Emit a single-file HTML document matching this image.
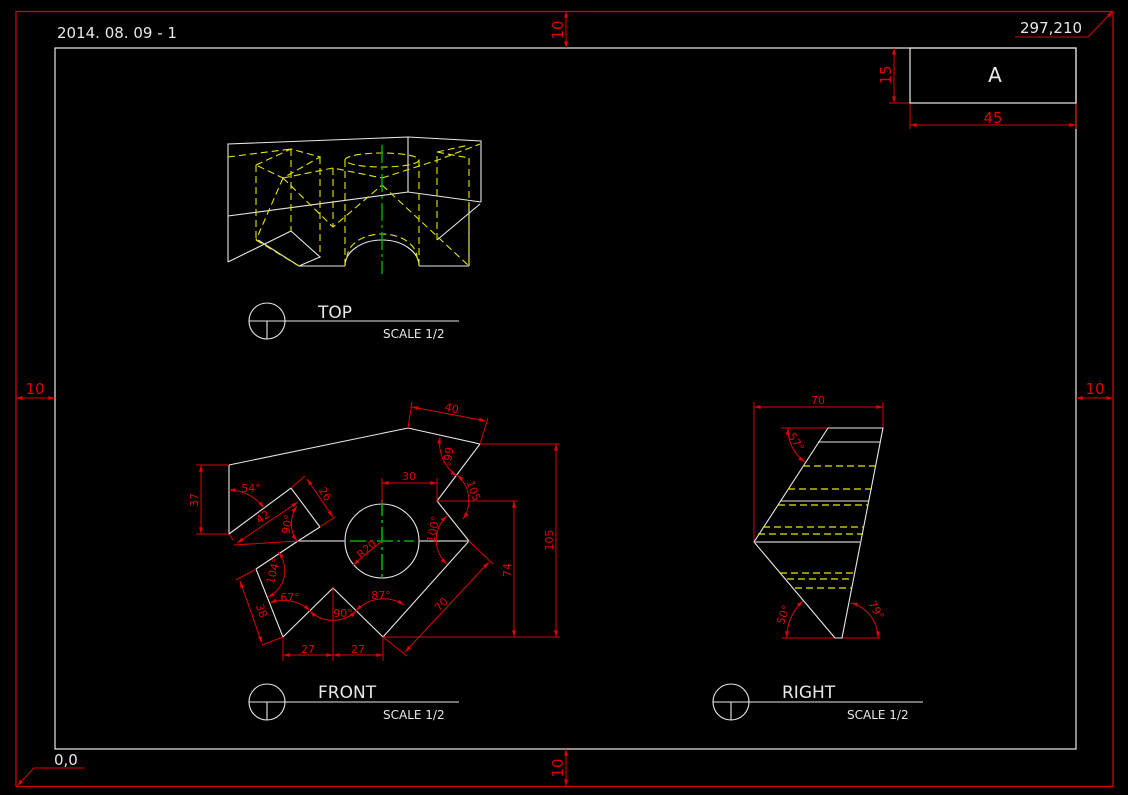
<!DOCTYPE html>
<html><head><meta charset="utf-8"><style>
html,body{margin:0;padding:0;background:#000;}
svg{display:block;}
text{font-family:"DejaVu Sans","Liberation Sans",sans-serif;}
</style></head><body>
<svg width="1128" height="795" viewBox="0 0 1128 795" xmlns="http://www.w3.org/2000/svg">
<defs>
<marker id="a" viewBox="0 0 10 6" refX="10" refY="3" markerWidth="8" markerHeight="4" orient="auto-start-reverse" markerUnits="userSpaceOnUse"><path d="M0,0L10,3L0,6z" fill="#e00000"/></marker>
</defs>
<rect width="1128" height="795" fill="#000"/>
<!-- borders -->
<rect x="16" y="11.5" width="1097" height="775" fill="none" stroke="#d00000" stroke-width="1.3"/>
<rect x="55" y="48" width="1021" height="701" fill="none" stroke="#e8e8e8" stroke-width="1.2"/>
<g stroke="#e00000" stroke-width="1" fill="none">
<line x1="566" y1="11" x2="566" y2="48" marker-start="url(#a)" marker-end="url(#a)"/>
<line x1="566" y1="749" x2="566" y2="786" marker-start="url(#a)" marker-end="url(#a)"/>
<line x1="16" y1="398" x2="55" y2="398" marker-start="url(#a)" marker-end="url(#a)"/>
<line x1="1076" y1="398" x2="1113" y2="398" marker-start="url(#a)" marker-end="url(#a)"/>
<line x1="894" y1="48" x2="894" y2="103" marker-start="url(#a)" marker-end="url(#a)"/>
<line x1="889" y1="103" x2="910" y2="103"/>
<line x1="910" y1="103" x2="910" y2="129"/><line x1="1076" y1="103" x2="1076" y2="129"/>
<line x1="910" y1="125" x2="1076" y2="125" marker-start="url(#a)" marker-end="url(#a)"/>
<polyline points="1015,37 1088,37 1113,11" marker-end="url(#a)"/>
<polyline points="85,768 34,768 17,786" marker-end="url(#a)"/>
</g>
<g fill="#e00000" font-size="15">
<text transform="translate(563,30) rotate(-90)" text-anchor="middle">10</text>
<text transform="translate(563,768) rotate(-90)" text-anchor="middle">10</text>
<text x="35" y="394" text-anchor="middle">10</text>
<text x="1095" y="394" text-anchor="middle">10</text>
<text transform="translate(891,75) rotate(-90)" text-anchor="middle">15</text>
<text x="993" y="123" text-anchor="middle">45</text>
</g>
<rect x="910" y="48" width="166" height="55" fill="none" stroke="#e8e8e8" stroke-width="1.2"/>
<g fill="#e8e8e8">
<text x="995" y="82" font-size="20" text-anchor="middle">A</text>
<text x="1020" y="33" font-size="15">297,210</text>
<text x="54" y="765" font-size="15">0,0</text>
<text x="57" y="38" font-size="15">2014. 08. 09 - 1</text>
</g>

<!-- TOP VIEW -->
<g stroke="#e8e8e8" stroke-width="1.1" fill="none">
<polyline points="228,262 228,144 408,137 481,141 481,202"/>
<line x1="408" y1="137" x2="408" y2="192"/>
<polyline points="228,216 408,192 481,202"/>
<polyline points="228,262 291,231 320,257 299,266 228,262" stroke="none"/>
<line x1="228" y1="262" x2="291" y2="231"/>
<polyline points="291,231 320,257 299,266"/>
<line x1="258" y1="240" x2="299" y2="266"/>
<line x1="299" y1="266" x2="345" y2="266"/>
<path d="M345,266 A37,26 0 0 1 419,266"/>
<line x1="419" y1="266" x2="469" y2="266"/>
<line x1="469" y1="266" x2="469" y2="203"/>
<line x1="437" y1="240" x2="480" y2="204"/>
</g>
<g stroke="#e6e600" stroke-width="1.1" fill="none" stroke-dasharray="7,4">
<line x1="228" y1="157" x2="291" y2="149"/>
<polyline points="256,165 291,149 320,157 283,178 256,165"/>
<line x1="256" y1="165" x2="256" y2="240"/>
<line x1="291" y1="149" x2="291" y2="231"/>
<line x1="320" y1="157" x2="320" y2="257"/>
<line x1="283" y1="178" x2="256" y2="240"/>
<line x1="256" y1="240" x2="299" y2="266"/>
<polyline points="283,178 333,227 382,185"/>
<line x1="333" y1="168" x2="333" y2="227"/>
<polyline points="283,178 333,168 382,178"/>
<polyline points="382,178 438,160 480,144"/>
<ellipse cx="382" cy="160" rx="37" ry="7"/>
<line x1="345" y1="160" x2="345" y2="266"/>
<line x1="419" y1="160" x2="419" y2="266"/>
<polyline points="437,240 437,152 469,145"/>
<line x1="469" y1="158" x2="469" y2="266"/>
<line x1="437" y1="152" x2="469" y2="158"/>
<line x1="382" y1="185" x2="469" y2="266"/>
<path d="M347,258 A35,24 0 0 1 417,258"/>
</g>
<line x1="382" y1="145" x2="382" y2="274" stroke="#00b000" stroke-width="1.4" stroke-dasharray="18,4,3,4"/>
<!-- view labels -->
<g stroke="#e8e8e8" stroke-width="1.1" fill="none">
<circle cx="267" cy="321" r="18"/><line x1="249" y1="321" x2="459" y2="321"/><line x1="267" y1="321" x2="267" y2="339"/>
<circle cx="267" cy="702" r="18"/><line x1="249" y1="702" x2="459" y2="702"/><line x1="267" y1="702" x2="267" y2="720"/>
<circle cx="731" cy="702" r="18"/><line x1="713" y1="702" x2="923" y2="702"/><line x1="731" y1="702" x2="731" y2="720"/>
</g>
<g fill="#e8e8e8">
<text x="318" y="318" font-size="17">TOP</text><text x="383" y="338" font-size="12">SCALE 1/2</text>
<text x="318" y="698" font-size="17">FRONT</text><text x="383" y="719" font-size="12">SCALE 1/2</text>
<text x="782" y="698" font-size="17">RIGHT</text><text x="847" y="719" font-size="12">SCALE 1/2</text>
</g>

<!-- FRONT VIEW -->
<g stroke="#e8e8e8" stroke-width="1.1" fill="none">
<polygon points="229,465 408,428 480,444 437,501 469,541 383,637 333,588 283,637 256,569 298,541 320,527 291,488 229,534"/>
<circle cx="382" cy="541" r="37"/>
</g>
<g stroke="#aaa" stroke-width="1.5"><line x1="298" y1="541" x2="345" y2="541"/><line x1="419" y1="541" x2="469" y2="541"/></g>
<g stroke="#00b000" stroke-width="1.6" stroke-dasharray="16,4,3,4"><line x1="350" y1="541" x2="414" y2="541"/><line x1="382" y1="500" x2="382" y2="580"/></g>
<g stroke="#e00000" stroke-width="1" fill="none">
<line x1="408" y1="428" x2="412" y2="402"/><line x1="480" y1="444" x2="488" y2="418"/>
<line x1="412" y1="407" x2="486" y2="421" marker-start="url(#a)" marker-end="url(#a)"/>
<line x1="196" y1="465" x2="229" y2="465"/><line x1="196" y1="534" x2="229" y2="534"/>
<line x1="201" y1="465" x2="201" y2="534" marker-start="url(#a)" marker-end="url(#a)"/>
<line x1="480" y1="444" x2="560" y2="444"/><line x1="383" y1="637" x2="560" y2="637"/>
<line x1="556" y1="444" x2="556" y2="637" marker-start="url(#a)" marker-end="url(#a)"/>
<line x1="437" y1="501" x2="518" y2="501"/>
<line x1="514" y1="501" x2="514" y2="637" marker-start="url(#a)" marker-end="url(#a)"/>
<line x1="382" y1="478" x2="382" y2="504"/><line x1="437" y1="478" x2="437" y2="501"/>
<line x1="382" y1="483" x2="437" y2="483" marker-start="url(#a)" marker-end="url(#a)"/>
<line x1="291" y1="488" x2="305" y2="476"/><line x1="320" y1="527" x2="335" y2="517"/>
<line x1="307" y1="479" x2="333" y2="517" marker-start="url(#a)" marker-end="url(#a)"/>
<line x1="229" y1="534" x2="233" y2="540"/><line x1="298" y1="541" x2="234" y2="545"/>
<line x1="237" y1="543" x2="298" y2="502" marker-start="url(#a)" marker-end="url(#a)"/>
<line x1="256" y1="569" x2="236" y2="580"/><line x1="283" y1="637" x2="262" y2="645"/>
<line x1="240" y1="581" x2="262" y2="643" marker-start="url(#a)" marker-end="url(#a)"/>
<line x1="469" y1="541" x2="493" y2="564"/><line x1="383" y1="637" x2="407" y2="656"/>
<line x1="489" y1="562" x2="405" y2="652" marker-start="url(#a)" marker-end="url(#a)"/>
<line x1="283" y1="637" x2="283" y2="661"/><line x1="333" y1="588" x2="333" y2="661"/><line x1="383" y1="637" x2="383" y2="661"/>
<line x1="283" y1="655" x2="333" y2="655" marker-start="url(#a)" marker-end="url(#a)"/>
<line x1="333" y1="655" x2="383" y2="655" marker-start="url(#a)" marker-end="url(#a)"/>
<line x1="382" y1="541" x2="353" y2="565" marker-end="url(#a)"/>
<path d="M229,490 A44,44 0 0 1 264,508" marker-start="url(#a)" marker-end="url(#a)"/>
<path d="M297,506 A30,30 0 0 0 297,541" marker-start="url(#a)" marker-end="url(#a)"/>
<path d="M440,437 A40,40 0 0 0 457,476" marker-start="url(#a)" marker-end="url(#a)"/>
<path d="M457,475 A33,33 0 0 1 463,519" marker-start="url(#a)" marker-end="url(#a)"/>
<path d="M447,516 A32,32 0 0 0 447,564" marker-start="url(#a)" marker-end="url(#a)"/>
<path d="M278,552 A29,29 0 0 1 268,597" marker-start="url(#a)" marker-end="url(#a)"/>
<path d="M270,603 A37,37 0 0 1 310,611" marker-start="url(#a)" marker-end="url(#a)"/>
<path d="M310,611 A33,33 0 0 0 356,611" marker-start="url(#a)" marker-end="url(#a)"/>
<path d="M356,611 A37,37 0 0 1 404,605" marker-start="url(#a)" marker-end="url(#a)"/>
</g>
<g fill="#e00000" font-size="11">
<text transform="translate(451,412) rotate(12)" text-anchor="middle">40</text>
<text transform="translate(198,500) rotate(-90)" text-anchor="middle">37</text>
<text transform="translate(553,540) rotate(-90)" text-anchor="middle">105</text>
<text transform="translate(511,570) rotate(-90)" text-anchor="middle">74</text>
<text x="409" y="480" text-anchor="middle">30</text>
<text transform="translate(322,496) rotate(57)" text-anchor="middle">26</text>
<text transform="translate(265,520) rotate(-35)" text-anchor="middle">42</text>
<text transform="translate(258,612) rotate(70)" text-anchor="middle">38</text>
<text transform="translate(444,607) rotate(-47)" text-anchor="middle">70</text>
<text x="308" y="653" text-anchor="middle">27</text><text x="358" y="653" text-anchor="middle">27</text>
<text transform="translate(369,552) rotate(-40)" text-anchor="middle">R20</text>
<text x="251" y="492" text-anchor="middle">54°</text>
<text transform="translate(291,525) rotate(-80)" text-anchor="middle">90°</text>
<text transform="translate(444,456) rotate(100)" text-anchor="middle">66°</text>
<text transform="translate(470,492) rotate(70)" text-anchor="middle">105</text>
<text transform="translate(437,530) rotate(-78)" text-anchor="middle">100°</text>
<text transform="translate(277,572) rotate(-75)" text-anchor="middle">104°</text>
<text x="290" y="601" text-anchor="middle">67°</text>
<text x="343" y="617" text-anchor="middle">90°</text>
<text x="381" y="599" text-anchor="middle">87°</text>
</g>

<!-- RIGHT VIEW -->
<g stroke="#e00000" stroke-width="1" fill="none">
<line x1="754" y1="402" x2="754" y2="542"/><line x1="883" y1="402" x2="883" y2="428"/>
<line x1="754" y1="407" x2="883" y2="407" marker-start="url(#a)" marker-end="url(#a)"/>
<line x1="781" y1="428" x2="828" y2="428"/>
<path d="M788,428 A40,40 0 0 0 805,462" marker-start="url(#a)" marker-end="url(#a)"/>
<line x1="782" y1="638" x2="880" y2="638"/>
<path d="M787,638 A48,48 0 0 1 803,601" marker-start="url(#a)" marker-end="url(#a)"/>
<path d="M851,603 A36,36 0 0 1 878,638" marker-start="url(#a)" marker-end="url(#a)"/>
</g>
<g fill="#e00000" font-size="11">
<text x="818" y="404" text-anchor="middle">70</text>
<text transform="translate(793,444) rotate(57)" text-anchor="middle">57°</text>
<text transform="translate(787,616) rotate(-70)" text-anchor="middle">50°</text>
<text transform="translate(873,612) rotate(60)" text-anchor="middle">79°</text>
</g>
<g stroke="#e8e8e8" stroke-width="1.1" fill="none">
<polygon points="828,428 883,428 842,638 835,638 754,542"/>
<line x1="818" y1="442" x2="880" y2="442"/>
<line x1="780" y1="501" x2="869" y2="501"/>
</g>
<line x1="754" y1="542" x2="861" y2="542" stroke="#aaa" stroke-width="1.6"/>
<g stroke="#e6e600" stroke-width="1.2" stroke-dasharray="7,4">
<line x1="803" y1="466" x2="876" y2="466"/>
<line x1="788" y1="489" x2="872" y2="489"/>
<line x1="778" y1="505" x2="868" y2="505"/>
<line x1="763" y1="527" x2="864" y2="527"/>
<line x1="758" y1="534" x2="862" y2="534"/>
<line x1="780" y1="573" x2="855" y2="573"/>
<line x1="787" y1="579" x2="854" y2="579"/>
<line x1="795" y1="588" x2="852" y2="588"/>
</g>
</svg>
</body></html>
